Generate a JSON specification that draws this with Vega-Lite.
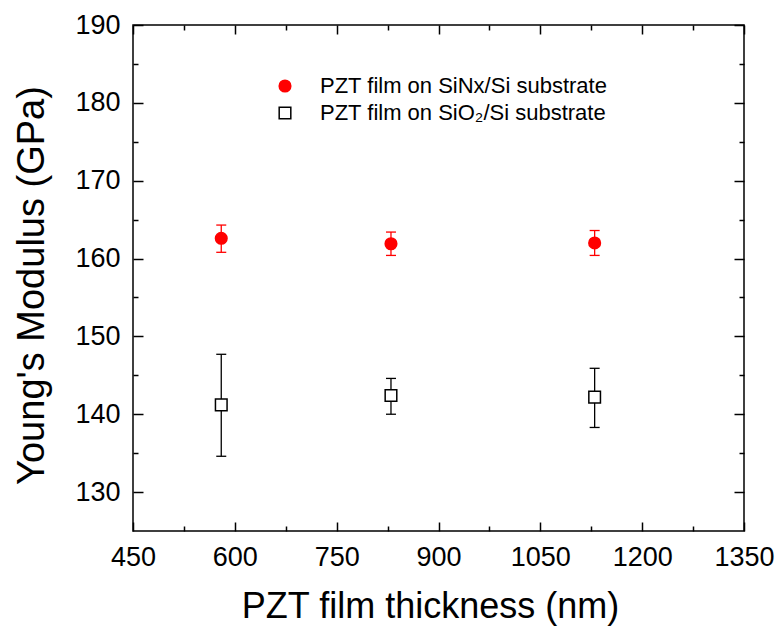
{
  "$schema": "https://vega.github.io/schema/vega-lite/v6.json",
  "width": 611,
  "height": 506,
  "autosize": "none",
  "padding": {"left": 133, "top": 25, "right": 35, "bottom": 97},
  "background": "white",
  "config": {
    "view": {"stroke": "black", "strokeWidth": 1.5},
    "font": "Liberation Sans"
  },
  "data": {
    "values": [
      {"series": "PZT film on SiNx/Si substrate", "thickness": 580, "modulus": 162.6, "lo": 160.8, "hi": 164.3},
      {"series": "PZT film on SiNx/Si substrate", "thickness": 830, "modulus": 161.9, "lo": 160.4, "hi": 163.4},
      {"series": "PZT film on SiNx/Si substrate", "thickness": 1130, "modulus": 162.0, "lo": 160.4, "hi": 163.6},
      {"series": "PZT film on SiO₂/Si substrate", "thickness": 580, "modulus": 141.2, "lo": 134.6, "hi": 147.7},
      {"series": "PZT film on SiO₂/Si substrate", "thickness": 830, "modulus": 142.4, "lo": 140.0, "hi": 144.6},
      {"series": "PZT film on SiO₂/Si substrate", "thickness": 1130, "modulus": 142.2, "lo": 138.3, "hi": 145.9}
    ]
  },
  "resolve": {"axis": {"x": "independent", "y": "independent"}},
  "layer": [
    {
      "mark": {"type": "rule", "strokeWidth": 1.3},
      "encoding": {
        "x": {
          "field": "thickness", "type": "quantitative",
          "scale": {"domain": [450, 1350], "nice": false, "zero": false},
          "axis": {
            "orient": "bottom",
            "values": [450, 525, 600, 675, 750, 825, 900, 975, 1050, 1125, 1200, 1275, 1350],
            "format": "d",
            "labelExpr": "datum.value % 150 === 0 ? datum.label : ''",
            "tickSize": {"condition": {"test": "datum.value % 150 === 0", "value": -9}, "value": -5},
            "tickColor": "black", "tickWidth": 1.5,
            "labelPadding": 22, "labelFontSize": 27, "labelFont": "Liberation Sans", "labelColor": "black",
            "labelFlush": false, "labelOverlap": false, "labelBound": false,
            "domain": false, "grid": false,
            "title": "PZT film thickness (nm)",
            "titleFont": "Liberation Sans", "titleFontSize": 36, "titleFontWeight": "normal", "titleColor": "black",
            "titleX": 297, "titleY": 86, "titleBaseline": "alphabetic", "titleAnchor": "middle", "titleAlign": "center"
          }
        },
        "y": {
          "field": "lo", "type": "quantitative",
          "scale": {"domain": [125, 190], "nice": false, "zero": false},
          "axis": {
            "orient": "left",
            "values": [130, 135, 140, 145, 150, 155, 160, 165, 170, 175, 180, 185, 190],
            "format": "d",
            "labelExpr": "datum.value % 10 === 0 ? datum.label : ''",
            "tickSize": {"condition": {"test": "datum.value % 10 === 0", "value": -10}, "value": -5},
            "tickColor": "black", "tickWidth": 1.5,
            "labelPadding": 23, "labelFontSize": 27, "labelFont": "Liberation Sans", "labelColor": "black",
            "labelFlush": false, "labelOverlap": false, "labelBound": false,
            "domain": false, "grid": false,
            "title": "Young's Modulus (GPa)",
            "titleFont": "Liberation Sans", "titleFontSize": 38, "titleFontWeight": "normal", "titleColor": "black",
            "titleX": -90, "titleY": 260, "titleBaseline": "alphabetic", "titleAngle": -90, "titleAlign": "center"
          }
        },
        "y2": {"field": "hi"},
        "color": {
          "field": "series", "type": "nominal",
          "scale": {"domain": ["PZT film on SiNx/Si substrate", "PZT film on SiO₂/Si substrate"], "range": ["#ff0000", "#000000"]}
        }
      }
    },
    {
      "mark": {"type": "rule", "strokeWidth": 1.3, "xOffset": -5, "x2Offset": 5},
      "encoding": {
        "x": {"field": "thickness", "type": "quantitative", "axis": null},
        "x2": {"field": "thickness"},
        "y": {"field": "hi", "type": "quantitative", "axis": null},
        "color": {"field": "series", "type": "nominal"}
      }
    },
    {
      "mark": {"type": "rule", "strokeWidth": 1.3, "xOffset": -5, "x2Offset": 5},
      "encoding": {
        "x": {"field": "thickness", "type": "quantitative", "axis": null},
        "x2": {"field": "thickness"},
        "y": {"field": "lo", "type": "quantitative", "axis": null},
        "color": {"field": "series", "type": "nominal"}
      }
    },
    {
      "mark": {"type": "point", "filled": false, "strokeWidth": 1.5, "opacity": 1, "size": 135},
      "encoding": {
        "x": {
          "field": "thickness", "type": "quantitative",
          "axis": {
            "orient": "top",
            "values": [450, 525, 600, 675, 750, 825, 900, 975, 1050, 1125, 1200, 1275, 1350],
            "labels": false,
            "tickSize": {"condition": {"test": "datum.value % 150 === 0", "value": -9}, "value": -5},
            "tickColor": "black", "tickWidth": 1.5,
            "domain": false, "grid": false, "title": null
          }
        },
        "y": {
          "field": "modulus", "type": "quantitative",
          "axis": {
            "orient": "right",
            "values": [130, 135, 140, 145, 150, 155, 160, 165, 170, 175, 180, 185, 190],
            "labels": false,
            "tickSize": {"condition": {"test": "datum.value % 10 === 0", "value": -10}, "value": -5},
            "tickColor": "black", "tickWidth": 1.5,
            "domain": false, "grid": false, "title": null
          }
        },
        "color": {
          "field": "series", "type": "nominal",
          "legend": {
            "orient": "none", "legendX": 141, "legendY": 50,
            "title": null, "padding": 0,
            "labelFont": "Liberation Sans", "labelFontSize": 22, "labelColor": "black",
            "labelOffset": 24, "rowPadding": 5, "symbolSize": 135, "symbolStrokeWidth": 1.5,
            "labelLimit": 500
          }
        },
        "fill": {
          "field": "series", "type": "nominal",
          "scale": {"domain": ["PZT film on SiNx/Si substrate", "PZT film on SiO₂/Si substrate"], "range": ["#ff0000", "#ffffff"]}
        },
        "shape": {
          "field": "series", "type": "nominal",
          "scale": {"domain": ["PZT film on SiNx/Si substrate", "PZT film on SiO₂/Si substrate"], "range": ["circle", "square"]}
        }
      }
    }
  ]
}
